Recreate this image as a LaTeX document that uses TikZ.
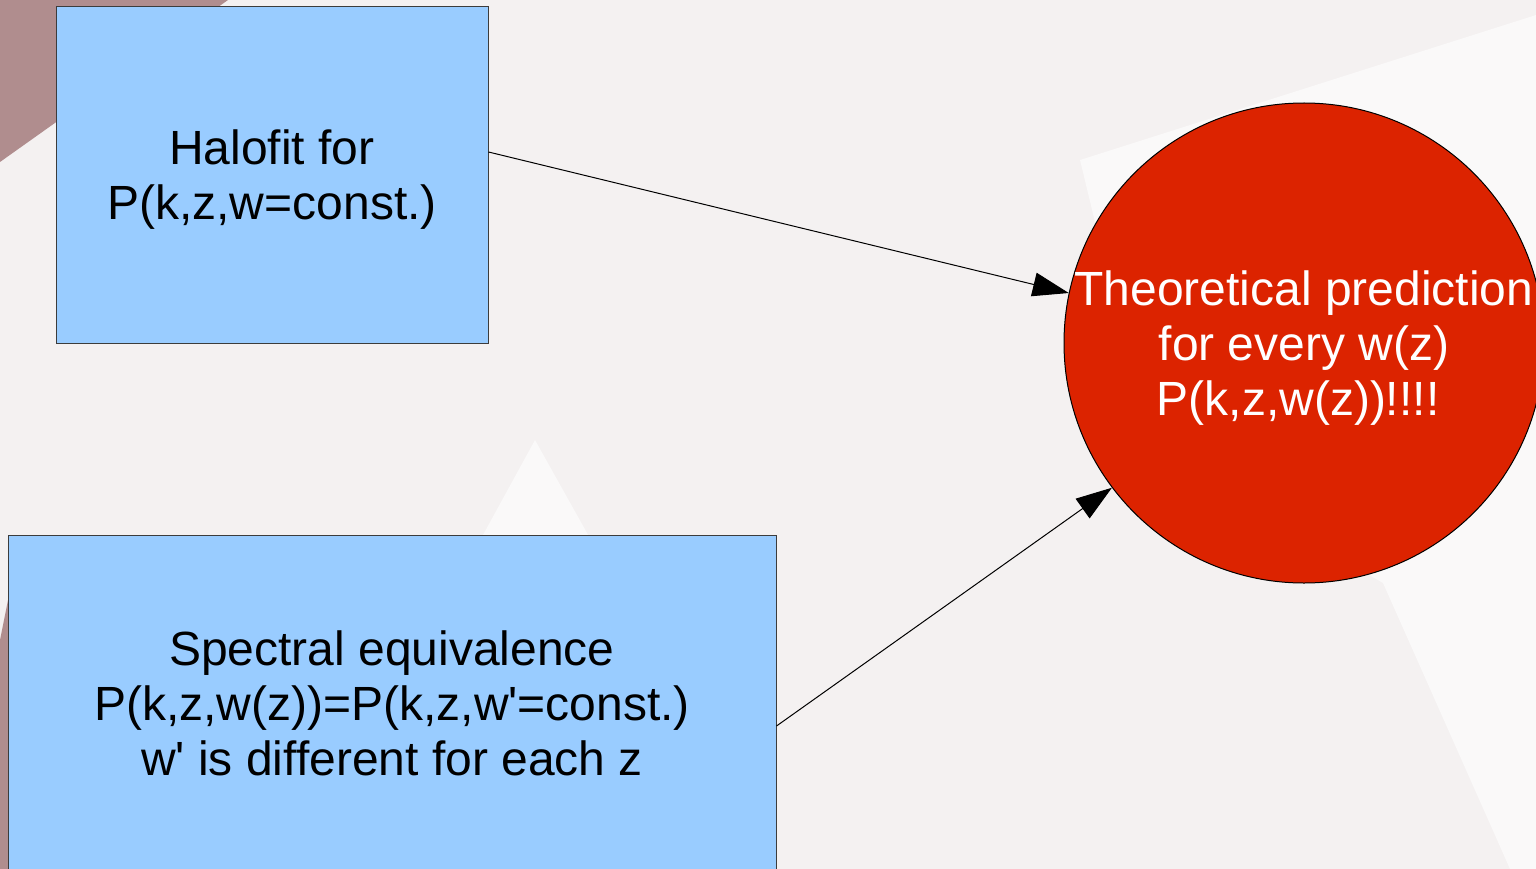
\documentclass[tikz,border=0pt]{standalone}
\usepackage{fontspec}
\setmainfont{Liberation Sans}
\usetikzlibrary{arrows.meta}
\definecolor{bgbase}{HTML}{F4F1F1}
\definecolor{bgwhite}{HTML}{FAF9F9}
\definecolor{maroon}{HTML}{B08D8E}
\definecolor{boxblue}{HTML}{99CCFF}
\definecolor{boxline}{HTML}{3C3C3C}
\definecolor{circred}{HTML}{DC2300}
\tikzset{
  stepbox/.style={draw=boxline, line width=1pt, fill=boxblue, inner sep=0pt},
  steptext/.style={align=center, font=\fontsize{48}{55}\selectfont},
  goalcirc/.style={draw=black, line width=1pt, fill=circred, circle, inner sep=0pt},
  goaltext/.style={text=white, align=center, font=\fontsize{48}{55}\selectfont},
  conn/.style={draw=black, line width=1pt, -{Triangle[length=36pt,width=24pt]}}
}
\begin{document}
\begin{tikzpicture}[x=1pt,y=-1pt]
\useasboundingbox (0,0) rectangle (1536,869);
\clip (0,0) rectangle (1536,869);
% background
\fill[bgbase] (0,0) rectangle (1536,869);
\fill[bgwhite] (535,440) -- (775,869) -- (300,869) -- cycle;
\fill[bgwhite] (1080,160) -- (1536,15) -- (1536,869) -- (1510,869) -- (1383,583) -- (1150,450) -- cycle;
\fill[maroon] (0,0) -- (228,0) -- (0,162) -- cycle;
\fill[maroon] (0,640) -- (8,600) -- (8,869) -- (0,869) -- cycle;
% nodes
\node[stepbox, minimum width=432pt, minimum height=336pt] (b1) at (272,175) {};
\node[steptext] (t1) at ([yshift=-5pt]b1.center)
  {Halofit for\\P(k,z,w=const.)};
\node[stepbox, minimum width=768pt, minimum height=338pt] (b2) at (392,704) {};
\node[steptext] (t2) at ([yshift=1pt]b2.center)
  {Spectral equivalence\\P(k,z,w(z))=P(k,z,w\textquotesingle=const.)\\w\textquotesingle{} is different for each z};
\node[goalcirc, minimum size=480pt] (c) at (1304,343) {};
\node[goaltext] (ct) at ([yshift=-5pt]c.center) {Theoretical prediction\\for every w(z)\\P(k,z,w(z))!!!!\hspace*{12pt}};
% connectors
\draw[conn] ([yshift=23pt]b1.east) -- (c.168.7);
\draw[conn] ([yshift=-22pt]b2.east) -- (c.217);
\end{tikzpicture}
\end{document}
